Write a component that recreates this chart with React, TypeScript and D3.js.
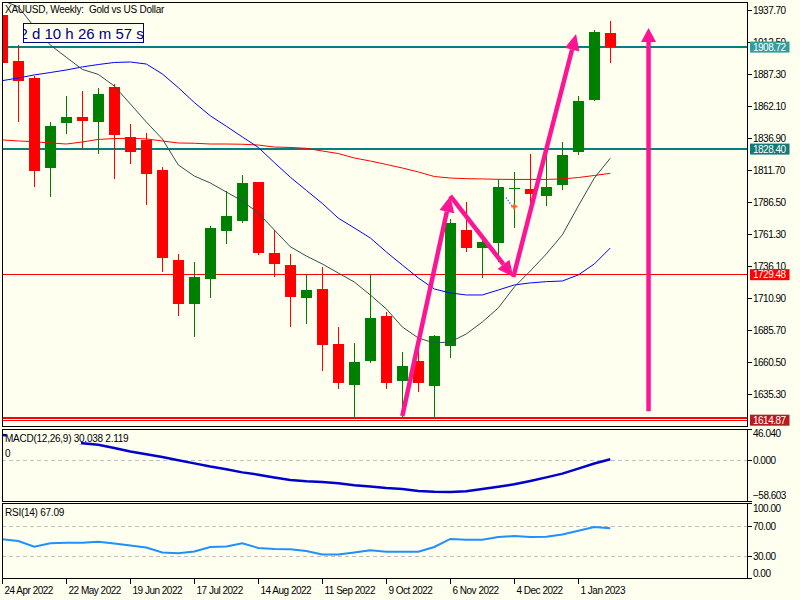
import React from "react";
import * as d3 from "d3";

// weekly candles, 24 Apr 2022 .. 15 Jan 2023
const opens = [
  1934.0, 1897.8, 1884.2, 1813.8, 1849.2, 1853.5, 1850.0, 1877.3, 1837.9, 1835.6,
  1811.9, 1741.1, 1706.7, 1726.3, 1764.1, 1772.0, 1802.5, 1746.8, 1737.1, 1711.4,
  1718.2, 1675.0, 1642.9, 1661.5, 1697.0, 1646.0, 1661.5, 1642.0, 1673.6, 1764.7,
  1750.8, 1754.7, 1797.0, 1797.0, 1791.7, 1800.4, 1826.4, 1867.1, 1920.0,
];
const highs = [
  1936.5, 1910.4, 1886.2, 1849.7, 1870.2, 1874.2, 1876.5, 1879.7, 1847.9, 1840.8,
  1814.0, 1745.8, 1739.5, 1767.8, 1795.4, 1808.0, 1802.5, 1764.9, 1745.8, 1730.0,
  1735.8, 1688.5, 1675.9, 1730.0, 1699.9, 1668.6, 1670.2, 1682.0, 1773.1, 1786.7,
  1761.3, 1804.6, 1810.2, 1824.5, 1823.8, 1834.0, 1870.2, 1922.2, 1929.3,
];
const lows = [
  1872.0, 1850.0, 1798.8, 1790.9, 1840.3, 1828.2, 1824.8, 1805.1, 1816.9, 1784.6,
  1731.8, 1697.2, 1680.7, 1711.4, 1753.9, 1770.4, 1745.3, 1727.9, 1688.5, 1690.9,
  1653.9, 1639.7, 1615.6, 1659.7, 1639.7, 1617.7, 1637.3, 1616.1, 1664.1, 1747.6,
  1726.7, 1739.7, 1766.0, 1773.9, 1783.8, 1796.4, 1824.0, 1866.3, 1896.2,
];
const closes = [
  1896.0, 1882.3, 1811.4, 1846.6, 1853.7, 1850.8, 1871.8, 1839.7, 1826.4, 1809.0,
  1742.4, 1706.7, 1727.7, 1766.3, 1775.7, 1801.7, 1746.8, 1738.2, 1712.2, 1717.4,
  1674.4, 1644.4, 1660.7, 1695.4, 1644.0, 1657.6, 1644.4, 1681.2, 1770.0, 1750.8,
  1755.2, 1798.8, 1797.8, 1792.8, 1798.6, 1823.8, 1866.3, 1920.6, 1908.72,
];

// moving averages
const maFast = [
  1945.4, 1940.5, 1924.6, 1910.4, 1900.7, 1891.2, 1887.2, 1878.1, 1864.0, 1849.7,
  1836.4, 1815.9, 1807.2, 1801.7, 1794.6, 1787.5, 1778.1, 1764.7, 1751.5, 1744.2,
  1737.9, 1730.8, 1723.7, 1713.5, 1702.5, 1688.3, 1679.6, 1675.7, 1676.5, 1682.8,
  1692.2, 1703.3, 1719.8, 1732.4, 1745.8, 1760.8, 1783.6, 1805.6, 1821.2,
];
const maMid = [
  1882.3, 1884.4, 1886.8, 1888.7, 1890.7, 1893.1, 1895.0, 1896.6, 1897.0, 1895.4,
  1887.6, 1876.8, 1865.1, 1854.6, 1846.4, 1838.0, 1829.7, 1817.8, 1806.3, 1795.9,
  1785.6, 1774.0, 1766.3, 1758.4, 1747.4, 1737.1, 1726.9, 1718.2, 1715.1, 1713.5,
  1713.5, 1717.4, 1721.4, 1723.0, 1724.0, 1724.5, 1729.3, 1737.9, 1750.5,
];
const maSlow = [
  1835.6, 1834.8, 1834.2, 1833.2, 1832.4, 1834.0, 1836.0, 1836.7, 1836.9, 1836.4,
  1834.8, 1833.2, 1833.0, 1832.4, 1832.4, 1832.2, 1831.6, 1830.0, 1829.7, 1829.0,
  1826.9, 1824.9, 1821.4, 1819.0, 1816.3, 1813.5, 1810.4, 1806.8, 1805.6, 1805.1,
  1804.9, 1804.6, 1804.5, 1804.5, 1804.5, 1804.9, 1806.0, 1807.6, 1809.3,
];

const macd = [
  37.4, 35.5, 33.0, 30.5, 28.0, 25.3, 23.1, 18.5, 13.4, 9.3,
  5.4, 0.7, -3.9, -8.6, -12.6, -17.0, -20.3, -24.3, -28.0, -29.9,
  -31.0, -32.8, -35.8, -37.5, -39.7, -41.0, -44.0, -45.2, -45.5, -44.5,
  -41.1, -37.9, -34.2, -29.5, -24.3, -18.8, -11.5, -4.2, 2.119,
];
const rsi = [
  52.3, 50.0, 42.4, 46.9, 47.7, 47.7, 49.1, 46.7, 44.0, 41.3,
  34.7, 33.6, 36.0, 42.0, 42.7, 46.9, 40.7, 39.3, 38.9, 36.7,
  32.0, 32.0, 34.7, 37.6, 35.7, 35.7, 35.7, 42.0, 52.7, 51.7,
  51.7, 55.3, 56.7, 55.3, 55.7, 58.7, 63.7, 68.7, 67.09,
];

const priceTicks = [
  1937.7, 1912.5, 1887.3, 1862.1, 1836.9, 1811.7, 1786.5, 1761.3, 1736.1, 1710.9,
  1685.7, 1660.5, 1635.3,
];
const macdTicks = [46.04, 0, -58.603];
const rsiTicks = [100, 70, 30, 0];
const rsiLevels = [70, 30];
const timeLabels = [
  "24 Apr 2022", "22 May 2022", "19 Jun 2022", "17 Jul 2022", "14 Aug 2022",
  "11 Sep 2022", "9 Oct 2022", "6 Nov 2022", "4 Dec 2022", "1 Jan 2023",
];
const levelPrices = [1908.72, 1828.4, 1729.48, 1614.87];

// hand drawn arrows as [bar index, price] pairs
const arrows = [
  [[25.0, 1618.2], [28.0, 1791.5]],
  [[28.0, 1791.5], [31.94, 1727.7]],
  [[31.94, 1727.7], [35.86, 1919.0]],
  [[40.39, 1622.0], [40.39, 1923.8]],
];
const tradeLine = [[31.48, 1790.3], [31.84, 1783.8]];

const BG = "#FFFFF0";
const LEFT = 2;
const RIGHT = 747.5;
const MAIN = { top: 2, bottom: 426 };
const MACDP = { top: 429, bottom: 501 };
const RSIP = { top: 503.5, bottom: 578.5 };
const FONT = "'Liberation Sans', Arial, sans-serif";

const levelLine = ["#008080", "#008080", "#FF0000", "#FF0000"];
const levelBox = ["#349C9C", "#127878", "#FF0000", "#B31D1D"];

function arrowHead(x1: number, y1: number, x2: number, y2: number, len = 16, half = 7.5) {
  const a = Math.atan2(y2 - y1, x2 - x1);
  const bx = x2 - len * Math.cos(a);
  const by = y2 - len * Math.sin(a);
  const px = -Math.sin(a) * half;
  const py = Math.cos(a) * half;
  return {
    points: `${x2},${y2} ${bx + px},${by + py} ${bx - px},${by - py}`,
    bx,
    by,
  };
}

export default function App() {
  const x = d3.scaleLinear().domain([0, 1]).range([2.3, 18.3]);
  const y = d3.scaleLinear().domain([1610.3, 1944.25]).range([MAIN.bottom, MAIN.top]);
  const yM = d3.scaleLinear().domain([-58.603, 46.04]).range([MACDP.bottom, MACDP.top]);
  const yR = d3.scaleLinear().domain([0, 100]).range([RSIP.bottom, RSIP.top]);

  const maLine = d3
    .line<number>()
    .x((_, i) => x(i))
    .y((v) => y(v));
  const macdLine = d3
    .line<number>()
    .x((_, i) => x(i))
    .y((v) => yM(v));
  const rsiLine = d3
    .line<number>()
    .x((_, i) => x(i))
    .y((v) => yR(v));

  const f2 = d3.format(".2f");
  const f3 = d3.format(".3f");

  const axisText = { fontFamily: FONT, fontSize: 10, letterSpacing: -0.5, fill: "#000" };

  return (
    <svg
      width={800}
      height={600}
      style={{ position: "fixed", left: 0, top: 0, background: BG }}
    >
      <defs>
        <clipPath id="mainClip">
          <rect x={LEFT} y={MAIN.top} width={RIGHT - LEFT} height={MAIN.bottom - MAIN.top} />
        </clipPath>
        <clipPath id="macdClip">
          <rect x={LEFT} y={MACDP.top} width={RIGHT - LEFT} height={MACDP.bottom - MACDP.top} />
        </clipPath>
        <clipPath id="rsiClip">
          <rect x={LEFT} y={RSIP.top} width={RIGHT - LEFT} height={RSIP.bottom - RSIP.top} />
        </clipPath>
        <clipPath id="timerClip">
          <rect x={23} y={23.5} width={120} height={19} />
        </clipPath>
      </defs>
      <rect width={800} height={600} fill={BG} />

      {/* main price window */}
      <g clipPath="url(#mainClip)">
        {levelPrices.map((p, k) =>
          k === 3 ? (
            <g key={p} shapeRendering="crispEdges">
              <line x1={LEFT} x2={RIGHT} y1={y(p) - 2.3} y2={y(p) - 2.3} stroke="#FF0000" strokeWidth={1.3} />
              <line x1={LEFT} x2={RIGHT} y1={y(p) + 0.4} y2={y(p) + 0.4} stroke="#FF0000" strokeWidth={1.3} />
            </g>
          ) : (
            <line
              key={p}
              x1={LEFT}
              x2={RIGHT}
              y1={y(p)}
              y2={y(p)}
              stroke={levelLine[k]}
              strokeWidth={k < 2 ? 2 : 1}
              shapeRendering="crispEdges"
            />
          )
        )}

        {closes.map((c, i) => {
          const o = opens[i];
          const up = c >= o;
          const col = up ? "#008000" : "#FF0000";
          const cx = Math.round(x(i));
          const top = y(Math.max(o, c));
          const bot = y(Math.min(o, c));
          return (
            <g key={i} shapeRendering="crispEdges">
              <line x1={cx + 0.5} x2={cx + 0.5} y1={y(highs[i])} y2={y(lows[i])} stroke={col} strokeWidth={1} />
              <rect x={cx - 5} y={top} width={11} height={Math.max(bot - top, 1.5)} fill={col} />
            </g>
          );
        })}

        <path d={maLine(maSlow) ?? ""} fill="none" stroke="#FF0000" strokeWidth={1} />
        <path d={maLine(maMid) ?? ""} fill="none" stroke="#0000FF" strokeWidth={1} />
        <path d={maLine(maFast) ?? ""} fill="none" stroke="#2F4F4F" strokeWidth={1} />

        <line
          x1={x(tradeLine[0][0])}
          y1={y(tradeLine[0][1])}
          x2={x(tradeLine[1][0])}
          y2={y(tradeLine[1][1])}
          stroke="#1E6EFF"
          strokeWidth={1.2}
          strokeDasharray="1.5,1.5"
        />
        <path
          d={`M${x(32) - 3},${y(1783.2)}h6M${x(32)},${y(1783.2) - 3}v6`}
          stroke="#FF5A1E"
          strokeWidth={2}
        />

        {arrows.map(([a, b], k) => {
          const x1 = x(a[0]);
          const y1 = y(a[1]);
          const x2 = x(b[0]);
          const y2 = y(b[1]);
          const h = arrowHead(x1, y1, x2, y2, k === 3 ? 14 : 16, 7.5);
          return (
            <g key={k}>
              <line x1={x1} y1={y1} x2={h.bx} y2={h.by} stroke="#FF1493" strokeWidth={4.5} />
              <polygon points={h.points} fill="#FF1493" />
            </g>
          );
        })}

        <text x={5} y={13.3} fontFamily={FONT} fontSize={10} letterSpacing={-0.25} fill="#000">
          XAUUSD, Weekly:{"\u00a0\u00a0"}Gold vs US Dollar
        </text>
        <rect x={23} y={23.5} width={120} height={19} fill={BG} stroke="#000080" strokeWidth={1} shapeRendering="crispEdges" />
        <text
          x={19.5}
          y={38.5}
          clipPath="url(#timerClip)"
          fontFamily={FONT}
          fontSize={15}
          fill="#000080"
        >
          2 d 10 h 26 m 57 s
        </text>
      </g>

      {/* MACD window */}
      <g clipPath="url(#macdClip)">
        <line
          x1={LEFT}
          x2={RIGHT}
          y1={yM(0)}
          y2={yM(0)}
          stroke="#C0C0C0"
          strokeDasharray="4,3"
          shapeRendering="crispEdges"
        />
        <path d={macdLine(macd) ?? ""} fill="none" stroke="#0000CD" strokeWidth={2.5} />
        <rect x={6} y={431} width={75} height={13} fill={BG} />
        <text x={5} y={441.5} fontFamily={FONT} fontSize={10} letterSpacing={-0.25} fill="#000">
          MACD(12,26,9) 30.038 2.119
        </text>
        <text x={5} y={457} fontFamily={FONT} fontSize={10} fill="#000">
          0
        </text>
      </g>

      {/* RSI window */}
      <g clipPath="url(#rsiClip)">
        {rsiLevels.map((v) => (
          <line
            key={v}
            x1={LEFT}
            x2={RIGHT}
            y1={yR(v)}
            y2={yR(v)}
            stroke="#C0C0C0"
            strokeDasharray="4,3"
            shapeRendering="crispEdges"
          />
        ))}
        <path d={rsiLine(rsi) ?? ""} fill="none" stroke="#1E90FF" strokeWidth={2} />
        <text x={5} y={516} fontFamily={FONT} fontSize={10} letterSpacing={-0.25} fill="#000">
          RSI(14) 67.09
        </text>
      </g>

      {/* window frames */}
      <g fill="none" stroke="#000" strokeWidth={1} shapeRendering="crispEdges">
        <rect x={LEFT} y={MAIN.top} width={RIGHT - LEFT} height={MAIN.bottom - MAIN.top} />
        <rect x={LEFT} y={MACDP.top} width={RIGHT - LEFT} height={MACDP.bottom - MACDP.top} />
        <rect x={LEFT} y={RSIP.top} width={RIGHT - LEFT} height={RSIP.bottom - RSIP.top} />
      </g>

      {/* price axis */}
      {priceTicks.map((p) => (
        <g key={p}>
          <line x1={RIGHT} x2={RIGHT + 4} y1={y(p)} y2={y(p)} stroke="#000" shapeRendering="crispEdges" />
          <text x={RIGHT + 5.5} y={y(p) + 3.6} {...axisText}>
            {f2(p)}
          </text>
        </g>
      ))}
      {levelPrices.map((p, k) => (
        <g key={p}>
          <rect x={RIGHT + 2.5} y={y(p) - 5.5} width={39.5} height={11} fill={levelBox[k]} />
          <text x={RIGHT + 5.5} y={y(p) + 3.6} {...axisText} fill="#FFFFFF">
            {f2(p)}
          </text>
        </g>
      ))}

      {macdTicks.map((v) => {
        const ty = Math.min(Math.max(yM(v), MACDP.top + 4.5), MACDP.bottom - 5.5);
        return (
          <g key={v}>
            <line x1={RIGHT} x2={RIGHT + 4} y1={yM(v)} y2={yM(v)} stroke="#000" shapeRendering="crispEdges" />
            <text x={RIGHT + 5.5} y={ty + 3.6} {...axisText}>
              {f3(v)}
            </text>
          </g>
        );
      })}
      {rsiTicks.map((v) => {
        const ty = Math.min(Math.max(yR(v), RSIP.top + 5), RSIP.bottom - 5);
        return (
          <g key={v}>
            <line x1={RIGHT} x2={RIGHT + 4} y1={yR(v)} y2={yR(v)} stroke="#000" shapeRendering="crispEdges" />
            <text x={RIGHT + 5.5} y={ty + 3.6} {...axisText}>
              {f2(v)}
            </text>
          </g>
        );
      })}

      {/* time axis */}
      {timeLabels.map((t, k) => {
        const tx = Math.round(x(k * 4)) + 0.5;
        return (
          <g key={t}>
            <line x1={tx} x2={tx} y1={RSIP.bottom} y2={RSIP.bottom + 5} stroke="#000" shapeRendering="crispEdges" />
            <text x={tx + 2} y={594} {...axisText}>
              {t}
            </text>
          </g>
        );
      })}
    </svg>
  );
}
